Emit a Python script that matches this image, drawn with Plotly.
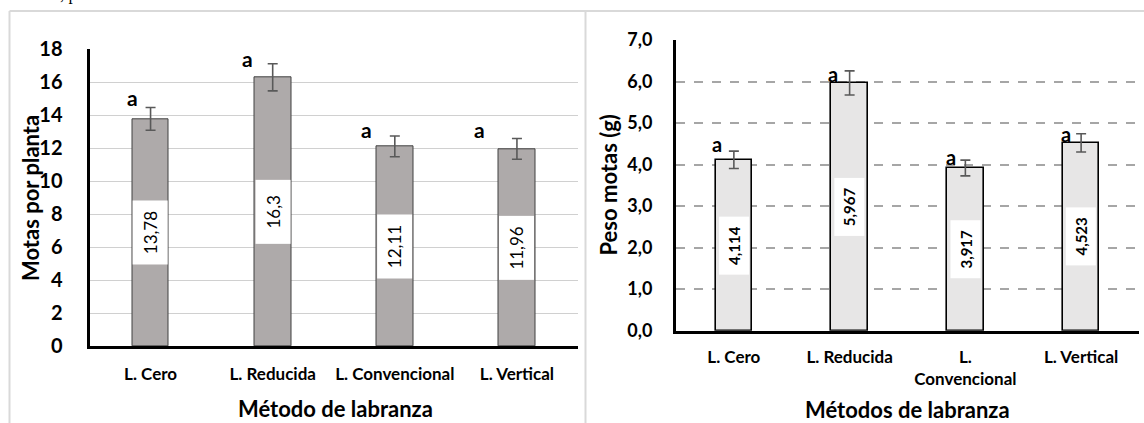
import plotly.graph_objects as go

# ---------------- data ----------------
categories_left = ["L. Cero", "L. Reducida", "L. Convencional", "L. Vertical"]
motas_por_planta = [13.78, 16.3, 12.11, 11.96]
motas_err = [0.69, 0.82, 0.63, 0.63]
letters_left = ["a", "a", "a", "a"]

categories_right = ["L. Cero", "L. Reducida", "L.<br>Convencional", "L. Vertical"]
peso_motas = [4.114, 5.967, 3.917, 4.523]
peso_err = [0.21, 0.29, 0.19, 0.22]
letters_right = ["a", "a", "a", "a"]

left_yticks = [0, 2, 4, 6, 8, 10, 12, 14, 16, 18]
right_yticks = [0, 1, 2, 3, 4, 5, 6, 7]

# ---------------- layout helpers ----------------
W, H = 1144, 423
def px(x):
    return x / W
def py(y):
    return 1 - y / H

FONT = "Lato"
def fmt(v):
    return str(v).replace(".", ",")

fig = go.Figure()

fig.add_trace(go.Bar(
    x=categories_left, y=motas_por_planta, width=0.30,
    marker=dict(color="#AEAAAA", line=dict(color="#404040", width=1)),
    error_y=dict(type="data", array=motas_err, color="#595959", thickness=1.6, width=5),
    xaxis="x", yaxis="y", showlegend=False, hoverinfo="skip",
))
fig.add_trace(go.Bar(
    x=categories_right, y=peso_motas, width=0.317,
    marker=dict(color="#E7E6E6", line=dict(color="#000000", width=1.6)),
    error_y=dict(type="data", array=peso_err, color="#595959", thickness=1.6, width=5),
    xaxis="x2", yaxis="y2", showlegend=False, hoverinfo="skip",
))

annotations = []
# value labels (white boxes, rotated)
for i, v in enumerate(motas_por_planta):
    annotations.append(dict(
        x=categories_left[i], y=v / 2, xref="x", yref="y", text=fmt(v),
        textangle=-90, showarrow=False, bgcolor="white",
        width=61, height=32, borderpad=1, borderwidth=1, bordercolor="rgba(0,0,0,0)",
        font=dict(family=FONT, size=17, color="black"),
    ))
for i, v in enumerate(peso_motas):
    annotations.append(dict(
        x=categories_right[i], y=v / 2, xref="x2", yref="y2", text=fmt(v),
        textangle=-90, showarrow=False, bgcolor="white",
        width=55, height=27, borderpad=1, borderwidth=1, bordercolor="rgba(0,0,0,0)",
        font=dict(family=FONT, size=15, color="black", weight=700),
    ))

# significance letters (layout offsets only)
left_dx = [-0.15, -0.21, -0.23, -0.31]
left_dy = [0.63, 0.32, 0.42, 0.54]
for i, v in enumerate(motas_por_planta):
    annotations.append(dict(
        x=i + left_dx[i], y=v + motas_err[i] + left_dy[i], xref="x", yref="y",
        text=letters_left[i], showarrow=False, xanchor="center", yanchor="middle",
        font=dict(family=FONT, size=21, color="black", weight=700),
    ))
right_dx = [-0.143, -0.144, -0.12, -0.13]
right_dy = [0.39, 0.22, 0.27, 0.22]
for i, v in enumerate(peso_motas):
    annotations.append(dict(
        x=i + right_dx[i], y=v + right_dy[i], xref="x2", yref="y2",
        text=letters_right[i], showarrow=False, xanchor="center", yanchor="middle",
        font=dict(family=FONT, size=20, color="black", weight=700),
    ))

# axis titles
annotations += [
    dict(x=px(30), y=py(198), xref="paper", yref="paper", text="Motas por planta",
         textangle=-90, showarrow=False, xanchor="center", yanchor="middle",
         font=dict(family=FONT, size=22, color="black", weight=700)),
    dict(x=px(335), y=py(408), xref="paper", yref="paper", text="Método de labranza",
         showarrow=False, xanchor="center", yanchor="middle",
         font=dict(family=FONT, size=22, color="black", weight=700)),
    dict(x=px(607.5), y=py(185), xref="paper", yref="paper", text="Peso motas (g)",
         textangle=-90, showarrow=False, xanchor="center", yanchor="middle",
         font=dict(family=FONT, size=22, color="black", weight=700)),
    dict(x=px(907.5), y=py(409), xref="paper", yref="paper", text="Métodos de labranza",
         showarrow=False, xanchor="center", yanchor="middle",
         font=dict(family=FONT, size=22, color="black", weight=700)),
    dict(x=px(58), y=py(6), xref="paper", yref="paper", text=", p", xanchor="left", yanchor="bottom",
         showarrow=False, font=dict(family="Liberation Serif", size=17, color="black")),
]

shapes = [
    dict(type="line", xref="paper", yref="paper", x0=px(9.5), x1=px(9.5), y0=0, y1=py(11),
         line=dict(color="#D9D9D9", width=2)),
    dict(type="line", xref="paper", yref="paper", x0=px(9.5), x1=1, y0=py(11), y1=py(11),
         line=dict(color="#D9D9D9", width=2)),
    dict(type="line", xref="paper", yref="paper", x0=px(585.5), x1=px(585.5), y0=0, y1=py(11),
         line=dict(color="#D9D9D9", width=2)),
]

fig.update_layout(
    width=W, height=H, margin=dict(l=0, r=0, t=0, b=0, autoexpand=False),
    paper_bgcolor="white", plot_bgcolor="white", separators=",.",
    annotations=annotations, shapes=shapes, bargap=0,
    xaxis=dict(domain=[px(89.5), px(578)], anchor="y", showline=True, linecolor="black", linewidth=3,
               showgrid=False, ticks="outside", ticklen=0, tickcolor="white", ticklabelstandoff=11,
               automargin=False,
               tickfont=dict(family=FONT, size=17, color="black", weight=700), fixedrange=True),
    yaxis=dict(domain=[py(346), py(49.3)], anchor="x", range=[0, 18], tickvals=left_yticks,
               showline=True, linecolor="black", linewidth=3, showgrid=True, gridcolor="#D0D0D0",
               gridwidth=1, zeroline=False, ticks="outside", ticklen=0, tickcolor="white",
               ticklabelstandoff=20, automargin=False,
               tickfont=dict(family=FONT, size=20, color="black", weight=700)),
    xaxis2=dict(domain=[px(676), px(1139)], anchor="y2", showline=True, linecolor="black", linewidth=3,
                showgrid=False, ticks="outside", ticklen=0, tickcolor="white", ticklabelstandoff=9,
                automargin=False,
                tickfont=dict(family=FONT, size=17, color="black", weight=700)),
    yaxis2=dict(domain=[py(330.7), py(40)], anchor="x2", range=[0, 7], tickvals=right_yticks,
                tickformat=".1f", showline=True, linecolor="black", linewidth=3, showgrid=True,
                gridcolor="#A6A6A6", gridwidth=1.5, griddash="dash", zeroline=False,
                ticks="outside", ticklen=0, tickcolor="white", ticklabelstandoff=17, automargin=False,
                tickfont=dict(family=FONT, size=18, color="black", weight=700)),
)

fig.write_html(
    "out.html",
    config={"displayModeBar": False},
    post_script="document.body.style.margin='0';document.body.style.overflow='hidden';",
)
